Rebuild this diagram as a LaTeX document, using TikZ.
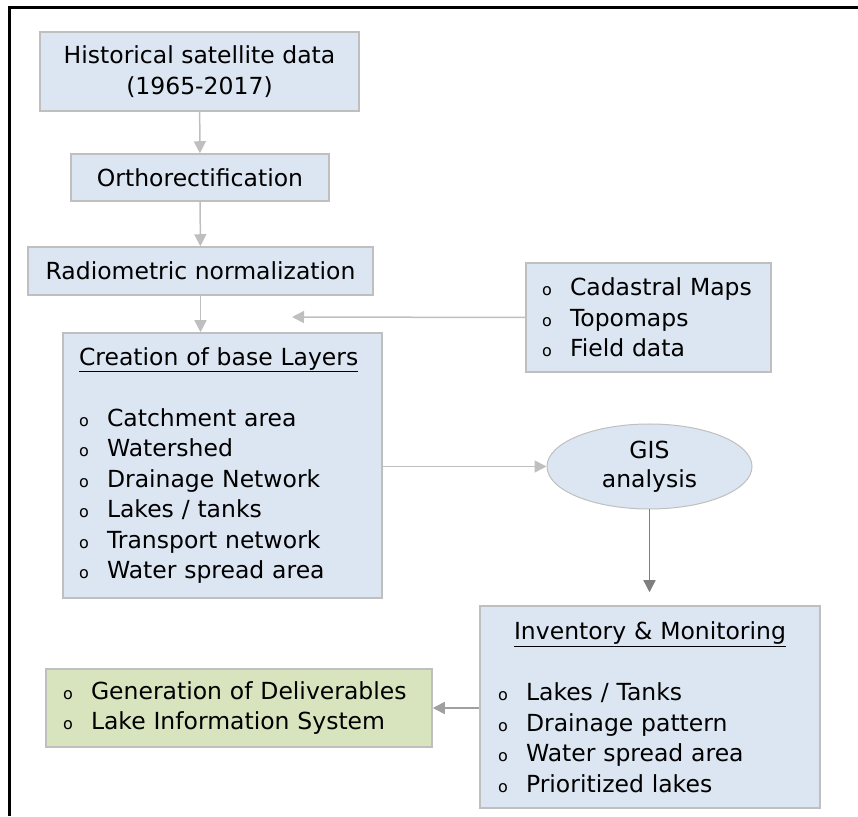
\documentclass[tikz,border=0pt]{standalone}
\usepackage{fontspec}
\setmainfont{DejaVu Sans}
\usepackage{tikz}
\usetikzlibrary{positioning, arrows.meta, shapes, calc}
\usepackage{xcolor}
\definecolor{boxblue}{RGB}{220, 230, 242}
\definecolor{boxgreen}{RGB}{215, 228, 189}
\definecolor{edgegray}{RGB}{191, 191, 191}
\definecolor{arrowmid}{RGB}{160, 160, 160}
\definecolor{arrowdark}{RGB}{127, 127, 127}
\newcommand{\itm}[1]{\makebox[28pt][l]{\fontsize{16}{16}\selectfont o}#1}

\begin{document}
\begin{tikzpicture}[x=1pt, y=1pt,
    box/.style={rectangle, draw=edgegray, line width=1.5pt, fill=boxblue, align=center,
        font=\fontsize{23.5}{30.5}\selectfont, inner sep=0pt},
    listbox/.style={box, align=left, inner xsep=16pt},
    greenbox/.style={listbox, fill=boxgreen},
    oval/.style={ellipse, draw=edgegray, line width=1pt, fill=boxblue, align=center,
        font=\fontsize{23.5}{30.5}\selectfont, inner sep=0pt},
    flow/.style={-{Triangle[width=12pt, length=12pt]}, line width=1.5pt, draw=edgegray}
]
    \useasboundingbox (0,0) rectangle (858,816);
    % frame
    \draw[line width=3pt] (9,0) -- (9,808) -- (858,808);

    \node[box, minimum width=319pt, minimum height=79pt] (hist) at (199.5,744.5)
        {Historical satellite data\\(1965-2017)};
    \node[box, minimum width=258pt, minimum height=47pt] (ortho) at (200,638.5)
        {Orthorectification};
    \node[box, minimum width=345pt, minimum height=48pt] (radio) at (200.5,545)
        {Radiometric normalization};

    \node[listbox, text width=287pt, minimum height=265pt] (crea) at (222.5,350.5)
        {\underline{Creation of base Layers}\\[30.5pt]
         \itm{Catchment area}\\ \itm{Watershed}\\ \itm{Drainage Network}\\
         \itm{Lakes / tanks}\\ \itm{Transport network}\\ \itm{Water spread area}};

    \node[listbox, text width=213pt, minimum height=109pt] (cada) at (648.5,498.5)
        {\itm{Cadastral Maps}\\ \itm{Topomaps}\\ \itm{Field data}};
    \coordinate (lyrin) at (292,499);

    \node[oval, minimum width=205pt, minimum height=85pt] (gis) at (649.5,349.5)
        {GIS\\[-2pt]analysis};

    \node[listbox, inner xsep=18pt, text width=304pt, minimum height=202pt] (inv) at (650,109)
        {\makebox[304pt][c]{\underline{Inventory \& Monitoring}}\\[30.5pt]
         \itm{Lakes / Tanks}\\ \itm{Drainage pattern}\\ \itm{Water spread area}\\
         \itm{Prioritized lakes}};

    \node[greenbox, inner xsep=17pt, text width=352pt, minimum height=78pt] (deliv) at (239,108)
        {\itm{Generation of Deliverables}\\ \itm{Lake Information System}};

    % connectors
    \draw[flow] (hist) -- (ortho);
    \draw[flow] (ortho) -- (radio);
    \draw[flow] (radio.south) -- (radio.south |- crea.north);
    \draw[flow] (cada.west) -- (lyrin);
    \draw[flow] (crea.east |- gis.west) -- (gis.west);
    \draw[flow, draw=arrowdark, shorten >=13pt] (gis.south) -- (gis.south |- inv.north);
    \draw[flow, draw=arrowmid] (inv.west |- deliv.east) -- (deliv.east);
\end{tikzpicture}
\end{document}
